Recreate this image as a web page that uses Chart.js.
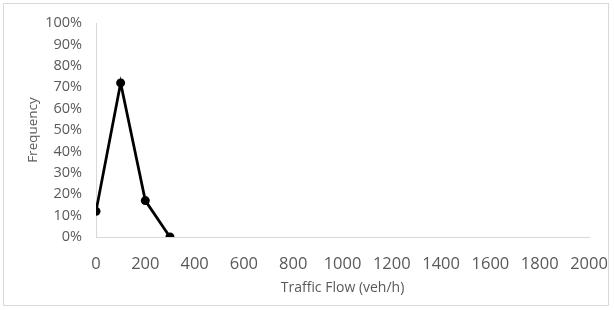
<!DOCTYPE html>
<html>
<head>
<meta charset="utf-8">
<script src="https://cdn.jsdelivr.net/npm/chart.js@4"></script>
<style>
  body { margin: 0; background: #fff; }
  #wrap { position: relative; width: 614px; height: 310px; }
  #frame { position: absolute; left: 3px; top: 3px; width: 606px; height: 303px; border: 1px solid #d9d9d9; box-sizing: border-box; pointer-events: none; }
  canvas { position: absolute; left: 0; top: 0; }
</style>
</head>
<body>
<div id="wrap">
  <canvas id="chart" width="614" height="310"></canvas>
  <div id="frame"></div>
</div>
<script>
const flow = [0, 100, 200, 300];
const frequency = [12, 72, 17, 0];
const xTicks = [0, 200, 400, 600, 800, 1000, 1200, 1400, 1600, 1800, 2000];
const yTicks = [0, 10, 20, 30, 40, 50, 60, 70, 80, 90, 100];

const textColor = "#595959";
const fontFamily = "'Open Sans', sans-serif";

const ctx = document.getElementById("chart").getContext("2d");
new Chart(ctx, {
  type: "line",
  data: {
    datasets: [{
      data: flow.map((x, i) => ({ x, y: frequency[i] })),
      borderColor: "#000",
      backgroundColor: "#000",
      borderWidth: 2.75,
      pointRadius: 4.5,
      pointBackgroundColor: "#000",
      pointBorderWidth: 0,
      tension: 0,
    }],
  },
  options: {
    responsive: false,
    animation: false,
    layout: { padding: { left: 21, right: 25, top: 23, bottom: 10 } },
    plugins: { legend: { display: false }, tooltip: { enabled: false } },
    scales: {
      x: {
        type: "linear",
        min: 0,
        max: 2000,
        afterBuildTicks: (s) => { s.ticks = xTicks.map((v) => ({ value: v })); },
        afterFit: (s) => { s.height = 63; s.paddingRight = 0; s.paddingLeft = 0; },
        grid: { display: false },
        border: { display: true, color: "#d9d9d9", width: 1 },
        ticks: { color: textColor, font: { family: fontFamily, size: 16.5 }, padding: 9, maxRotation: 0, callback: (v) => String(v) },
        title: { display: true, text: "Traffic Flow (veh/h)", color: textColor, font: { family: fontFamily, size: 14 }, padding: { top: 4 } },
      },
      y: {
        min: 0,
        max: 100,
        afterBuildTicks: (s) => { s.ticks = yTicks.map((v) => ({ value: v })); },
        afterFit: (s) => { s.width = 75; },
        grid: { display: false, drawTicks: false },
        border: { display: true, color: "#d9d9d9", width: 1 },
        ticks: { color: textColor, font: { family: fontFamily, size: 14.5 }, padding: 14, callback: (v) => v + "%" },
        title: { display: true, text: "Frequency", color: textColor, font: { family: fontFamily, size: 13.5 }, padding: { bottom: 4 } },
      },
    },
  },
});
</script>
</body>
</html>
